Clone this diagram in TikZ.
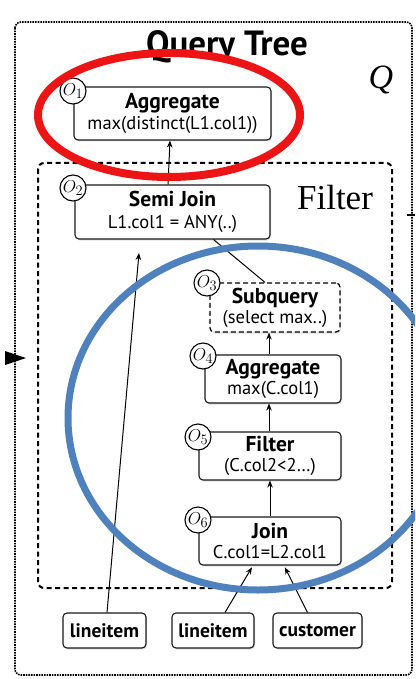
\documentclass[tikz,border=0pt]{standalone}
\usepackage{fontspec}
\usetikzlibrary{arrows.meta,shadows}
\newfontfamily\qsans{PT Sans}
\newfontfamily\qserif{Liberation Serif}
\newcommand{\opt}[1]{{\bfseries\fontsize{21.5}{22}\selectfont #1}}
\tikzset{
  opbox/.style={draw=black!90, line width=1.1pt, rounded corners=4pt, fill=white, align=center,
     font=\qsans\fontsize{18.5}{19}\selectfont, inner sep=0pt,
     drop shadow={opacity=0.25, shadow xshift=1pt, shadow yshift=-1.5pt}},
  subbox/.style={opbox, draw=black, dashed, dash pattern=on 5pt off 3pt, line width=1.2pt, drop shadow={opacity=0}},
  tblbox/.style={opbox, font=\qsans\bfseries\fontsize{19.5}{20}\selectfont},
  opcirc/.style={circle, draw=black, line width=1.1pt, fill=white, minimum size=26pt, inner sep=0pt,
     font=\fontsize{19}{19}\selectfont},
  arr/.style={-{Stealth[length=7pt,width=5.5pt]}, line width=1pt},
  conn/.style={line width=1pt}
}
\begin{document}
\begin{tikzpicture}[x=1pt,y=-1pt]
\useasboundingbox (0,0) rectangle (415,679);
\clip (0,0) rectangle (415,679);
\fill[white] (0,0) rectangle (415,679);
% outer dotted box
\draw[densely dotted, line width=1.6pt, rounded corners=6pt] (15,22) rectangle (412,675);
\node[font=\qsans\bfseries\fontsize{35}{36}\selectfont] (title) at (227,47) {Query Tree};
\node[font=\qserif\itshape\fontsize{34}{34}\selectfont] (q) at (381,80) {Q};
% filter dashed box
\draw[dashed, dash pattern=on 5pt off 3.5pt, line width=2pt, rounded corners=6pt] (38,163) rectangle (392,588);
\node[font=\qserif\fontsize{35}{35}\selectfont] (filt) at (335,198) {Filter};
% operator boxes
\node[opbox, minimum width=197pt, minimum height=53pt] (o1) at (172.5,113.5)
  {\opt{Aggregate}\\[2pt]max(distinct(L1.col1))};
\node[opbox, minimum width=195pt, minimum height=54pt] (o2) at (172.5,212)
  {\opt{Semi Join}\\[3pt]L1.col1 = ANY(..)};
\node[subbox, minimum width=130pt, minimum height=49pt] (o3) at (275,307.5)
  {\opt{Subquery}\\[1pt](select max..)};
\node[opbox, minimum width=136pt, minimum height=48pt] (o4) at (273,379)
  {\opt{Aggregate}\\[0.5pt]max(C.col1)};
\node[opbox, minimum width=142pt, minimum height=48pt] (o5) at (270,456)
  {\opt{Filter}\\[0.5pt](C.col2<2\ldots)};
\node[opbox, minimum width=142pt, minimum height=48pt] (o6) at (270,541)
  {\opt{Join}\\[1.5pt]C.col1=L2.col1};
% table boxes
\node[tblbox, minimum width=83pt, minimum height=35pt] (l1) at (104.5,630.5) {lineitem};
\node[tblbox, minimum width=82pt, minimum height=35pt] (l2) at (213,630.5) {lineitem};
\node[tblbox, minimum width=89pt, minimum height=35pt] (cu) at (317.5,630.5) {customer};
% operator circles
\node[opcirc] (c1) at (73,91) {$O_1$};
\node[opcirc] (c2) at (73,188) {$O_2$};
\node[opcirc] (c3) at (207,283) {$O_3$};
\node[opcirc] (c4) at (203,356) {$O_4$};
\node[opcirc] (c5) at (198,437) {$O_5$};
\node[opcirc] (c6) at (198,520) {$O_6$};
% connectors
\coordinate (sjin) at (139,253);
\draw[arr] ([xshift=2.5pt]l1.north) -- (sjin);
\draw[arr] ([xshift=-4.5pt]o2.north) -- ([xshift=-2.5pt]o1.south);
\draw[conn] ([xshift=-10pt]o3.north) -- ([xshift=41pt]o2.south);
\draw[arr] ([xshift=-4pt]o4.north) -- ([xshift=-6pt]o3.south);
\draw[arr] ([xshift=-1pt]o5.north) -- ([xshift=-4pt]o4.south);
\draw[arr] (o6.north) -- (o5.south);
\draw[arr, shorten >=2pt] ([xshift=12pt]l2.north) -- ([xshift=-17pt]o6.south);
\draw[arr, shorten >=2pt] ([xshift=-10pt]cu.north) -- ([xshift=14pt]o6.south);
% side marks
\fill (5,351) -- (26,358) -- (5,365) -- cycle;
\draw[line width=1.8pt] (407,215) -- (415,215);
% highlight ellipses
\draw[color={rgb,255:red,236;green,20;blue,20}, line width=8pt] (169,115) ellipse [x radius=131, y radius=62];
\draw[color={rgb,255:red,79;green,129;blue,189}, line width=7pt] (258,418) ellipse [x radius=190, y radius=172];
\end{tikzpicture}
\end{document}
